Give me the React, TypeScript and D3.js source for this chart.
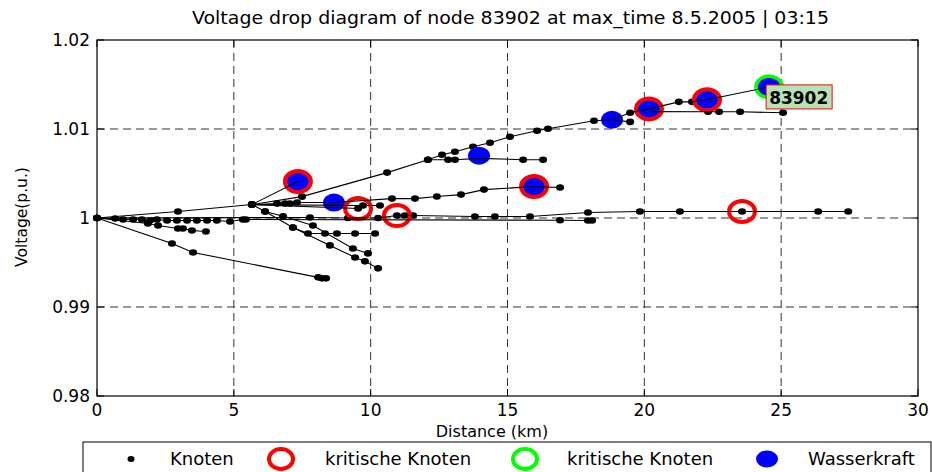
import React from 'react';
import * as d3 from 'd3';

type P = [number, number];

const title = 'Voltage drop diagram of node 83902 at max_time 8.5.2005 | 03:15';
const xLabel = 'Distance (km)';
const yLabel = 'Voltage(p.u.)';
const xTicks = [0, 5, 10, 15, 20, 25, 30];
const xTickLabels = ['0', '5', '10', '15', '20', '25', '30'];
const yTicks = [0.98, 0.99, 1.0, 1.01, 1.02];
const yTickLabels = ['0.98', '0.99', '1', '1.01', '1.02'];
const legendLabels = ['Knoten', 'kritische Knoten', 'kritische Knoten', 'Wasserkraft'];
const nodeLabel = '83902';

// network branches: [distance km, voltage p.u.]
const trunkUpper: P[] = [[0, 1.0], [2.96, 1.00073], [5.66, 1.00151]];
const branchHydroA: P[] = [[5.66, 1.00151], [7.34, 1.00409]];
const branchMain: P[] = [[5.66, 1.00151], [7.49, 1.0024], [10.6, 1.0051], [12.09, 1.00655], [12.61, 1.00711], [13.08, 1.00745], [13.74, 1.00801], [14.36, 1.00846], [15.09, 1.00913], [16.08, 1.0098], [16.48, 1.01003], [18.16, 1.01092], [18.82, 1.01104], [19.48, 1.01182], [20.17, 1.01226], [21.26, 1.01305], [21.74, 1.01305], [22.29, 1.01328], [24.56, 1.01473]];
const branchFlat: P[] = [[12.09, 1.00655], [12.83, 1.00655], [13.08, 1.00655], [13.96, 1.0067], [15.57, 1.00655], [16.3, 1.00655]];
const branchRight: P[] = [[20.17, 1.01195], [22.33, 1.01193], [22.73, 1.01193], [23.5, 1.01193], [25.07, 1.01182]];
const branchSpur: P[] = [[18.82, 1.01104], [19.48, 1.0108]];
const branchMid: P[] = [[5.66, 1.00151], [6.58, 1.00162], [6.87, 1.00162], [7.05, 1.00162], [7.31, 1.00174], [8.66, 1.00174], [10.78, 1.00218], [11.62, 1.00218], [12.42, 1.00241], [13.3, 1.00263], [14.14, 1.00319], [15.97, 1.00353], [16.92, 1.00342]];
const branchCritB: P[] = [[5.66, 1.00151], [9.54, 1.00106]];
const branchShort: P[] = [[5.66, 1.00151], [9.72, 1.0014], [10.34, 1.0014]];
const branchDownA: P[] = [[7.16, 0.99894], [7.71, 0.99826], [8.33, 0.99826], [8.77, 0.99826], [9.43, 0.99826], [10.16, 0.99826]];
const branchDownB: P[] = [[6.14, 1.00073], [6.8, 1.0002], [7.89, 0.99916], [9.35, 0.99658], [9.9, 0.99602]];
const branchDownC: P[] = [[5.66, 1.00151], [6.14, 1.00073], [7.16, 0.99894], [8.51, 0.99692], [9.43, 0.99557], [9.79, 0.99513], [10.27, 0.99434]];
const lineLong: P[] = [[0, 1.0], [7.78, 1.00006], [9.17, 1.0], [10.27, 1.0], [10.96, 1.00028], [11.25, 1.00028], [11.55, 1.00028], [13.81, 1.00017], [14.54, 1.00017], [15.82, 1.00017], [17.94, 1.00062], [19.84, 1.00073], [21.3, 1.00073], [23.57, 1.00073], [26.35, 1.00073], [27.45, 1.00073]];
const lineLevel: P[] = [[0, 1.0], [0.66, 0.99994], [0.95, 0.99983], [1.32, 0.99983], [1.64, 0.99983], [1.94, 0.99972], [2.19, 0.99983], [2.56, 0.99972], [2.92, 0.99972], [3.29, 0.99972], [3.65, 0.99972], [4.02, 0.99972], [4.38, 0.99972], [4.86, 0.99961], [5.33, 0.99983], [5.44, 0.99983], [16.92, 0.99975], [17.94, 0.99972], [18.09, 0.99972]];
const lineShortDown: P[] = [[0, 1.0], [1.86, 0.99938], [2.23, 0.99916], [2.96, 0.99882], [3.14, 0.99882], [3.47, 0.9986], [3.98, 0.99849]];
const lineDeep: P[] = [[0, 1.0], [2.74, 0.99714], [3.51, 0.99613], [8.08, 0.99333], [8.22, 0.99322], [8.37, 0.99322]];

const branches: P[][] = [trunkUpper, branchHydroA, branchMain, branchFlat, branchRight, branchSpur, branchMid, branchCritB, branchShort, branchDownA, branchDownB, branchDownC, lineLong, lineLevel, lineShortDown, lineDeep];

const hydroNodes: P[] = [[7.34, 1.00409], [8.66, 1.00174], [13.96, 1.0070], [15.97, 1.00353], [18.82, 1.01104], [20.17, 1.01226], [22.29, 1.01328], [24.56, 1.01473]];
const criticalNodes: P[] = [[7.34, 1.00409], [9.54, 1.00106], [10.96, 1.00028], [15.97, 1.00353], [20.17, 1.01226], [22.29, 1.01328], [23.57, 1.00073]];
const maxNode: P[] = [[24.56, 1.01473]];

const W = 932;
const H = 472;
const L = 97, R = 918, T = 40, B = 396;

export default function App() {
  const x = d3.scaleLinear().domain([0, 30]).range([L, R]);
  const y = d3.scaleLinear().domain([0.98, 1.02]).range([B, T]);
  const line = d3.line<P>().x(d => x(d[0])).y(d => y(d[1]));
  const font = 'DejaVu Sans, sans-serif';
  const allPts = branches.flat();
  const lx = x(maxNode[0][0]);
  const ly = y(maxNode[0][1]);
  const legendY = 459;
  return (
    <svg width={W} height={H} style={{ position: 'absolute', left: 0, top: 0, background: '#fff' }} fontFamily={font}>
      <rect x={0} y={0} width={W} height={H} fill="#fff" />
      {/* grid */}
      {xTicks.slice(1, -1).map(t => (
        <line key={'gx' + t} x1={x(t)} x2={x(t)} y1={T} y2={B} stroke="#333" strokeWidth={1} strokeDasharray="8,5" />
      ))}
      {yTicks.slice(1, -1).map(t => (
        <line key={'gy' + t} x1={L} x2={R} y1={y(t)} y2={y(t)} stroke="#333" strokeWidth={1} strokeDasharray="8,5" />
      ))}
      {/* dots */}
      {allPts.map((p, i) => (
        <ellipse key={'d' + i} cx={x(p[0])} cy={y(p[1])} rx={4} ry={3.3} fill="#000" />
      ))}
      {/* hydro */}
      {hydroNodes.map((p, i) => (
        <ellipse key={'h' + i} cx={x(p[0])} cy={y(p[1])} rx={11} ry={9} fill="#0000ff" />
      ))}
      {/* critical */}
      {criticalNodes.map((p, i) => (
        <ellipse key={'c' + i} cx={x(p[0])} cy={y(p[1])} rx={13} ry={10.5} fill="none" stroke="#ff0000" strokeWidth={4} />
      ))}
      {maxNode.map((p, i) => (
        <ellipse key={'m' + i} cx={x(p[0])} cy={y(p[1])} rx={13} ry={10.5} fill="none" stroke="#00ff00" strokeWidth={4} />
      ))}
      {maxNode.map((p, i) => (
        <ellipse key={'mh' + i} cx={x(p[0])} cy={y(p[1])} rx={11} ry={9} fill="#0000ff" />
      ))}
      {/* lines */}
      {branches.map((b, i) => (
        <path key={'l' + i} d={line(b) || ''} fill="none" stroke="#000" strokeWidth={1.1} />
      ))}
      {/* node label */}
      <rect x={lx - 3} y={ly - 2} width={66} height={24} fill="#b6e3b6" stroke="#ff0000" strokeWidth={1} />
      <text x={lx} y={ly + 17} fontSize={17} fontWeight="bold" fill="#000">{nodeLabel}</text>
      {/* axes box */}
      <rect x={L} y={T} width={R - L} height={B - T} fill="none" stroke="#000" strokeWidth={1.2} />
      {xTicks.map(t => (
        <g key={'tx' + t}>
          <line x1={x(t)} x2={x(t)} y1={B} y2={B - 7} stroke="#000" />
          <line x1={x(t)} x2={x(t)} y1={T} y2={T + 7} stroke="#000" />
        </g>
      ))}
      {yTicks.map(t => (
        <g key={'ty' + t}>
          <line x1={L} x2={L + 7} y1={y(t)} y2={y(t)} stroke="#000" />
          <line x1={R} x2={R - 7} y1={y(t)} y2={y(t)} stroke="#000" />
        </g>
      ))}
      {xTicks.map((t, i) => (
        <text key={'xl' + t} x={x(t)} y={416} fontSize={17} textAnchor="middle" fill="#000">{xTickLabels[i]}</text>
      ))}
      {yTicks.map((t, i) => (
        <text key={'yl' + t} x={90} y={y(t) + 6} fontSize={17} textAnchor="end" fill="#000">{yTickLabels[i]}</text>
      ))}
      <text x={510.5} y={24} fontSize={18} textAnchor="middle" textLength={637} lengthAdjust="spacingAndGlyphs" fill="#000">{title}</text>
      <text x={492} y={437} fontSize={16} textAnchor="middle" fill="#000">{xLabel}</text>
      <text transform="translate(27,217) rotate(-90)" fontSize={15.5} textAnchor="middle" fill="#000">{yLabel}</text>
      {/* legend */}
      <rect x={83} y={442} width={848} height={40} fill="#fff" stroke="#000" strokeWidth={1} />
      <ellipse cx={131} cy={legendY} rx={3.5} ry={3} fill="#000" />
      <ellipse cx={281} cy={legendY} rx={12} ry={10} fill="none" stroke="#ff0000" strokeWidth={4} />
      <ellipse cx={525} cy={legendY} rx={12} ry={10} fill="none" stroke="#00ff00" strokeWidth={4} />
      <ellipse cx={767} cy={legendY} rx={11} ry={8.5} fill="#0000ff" />
      {[170, 325, 567, 808].map((lxp, i) => (
        <text key={'lg' + i} x={lxp} y={465} fontSize={18} fill="#000">{legendLabels[i]}</text>
      ))}
    </svg>
  );
}
